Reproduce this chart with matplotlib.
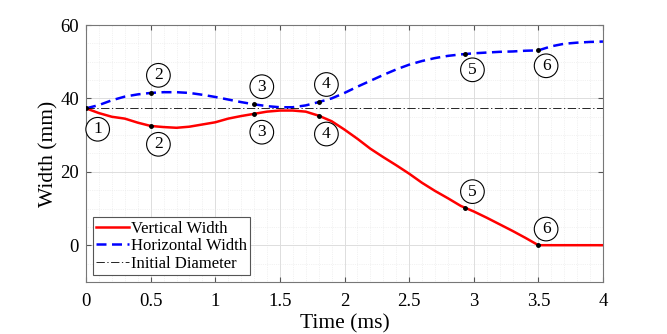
import matplotlib.pyplot as plt
import numpy as np

plt.rcParams['font.family'] = ['Liberation Serif', 'DejaVu Serif']
plt.rcParams['mathtext.fontset'] = 'stix'

# time axis (ms) and widths (mm)
t = [0.0, 0.1, 0.2, 0.3, 0.4, 0.5, 0.6, 0.7, 0.8, 0.9,
     1.0, 1.1, 1.2, 1.3, 1.4, 1.5, 1.6, 1.7, 1.8, 1.9,
     2.0, 2.1, 2.2, 2.3, 2.4, 2.5, 2.6, 2.7, 2.8, 2.9,
     3.0, 3.1, 3.2, 3.3, 3.4, 3.5, 3.6, 3.7, 3.8, 3.9, 4.0]
vertical = [37.3, 36.0, 35.0, 34.5, 33.4, 32.5, 32.2, 32.0, 32.3, 32.9,
            33.5, 34.5, 35.2, 35.8, 36.4, 36.7, 36.7, 36.4, 35.3, 33.8,
            31.5, 29.0, 26.3, 24.0, 21.8, 19.5, 17.0, 14.8, 12.8, 10.7,
            9.2, 7.5, 5.7, 3.9, 2.0, 0.0, 0.0, 0.0, 0.0, 0.0, 0.0]
horizontal = [37.3, 38.2, 39.5, 40.5, 41.1, 41.5, 41.7, 41.7, 41.5, 41.0,
              40.4, 39.7, 39.0, 38.4, 37.9, 37.6, 37.6, 38.1, 39.0, 40.0,
              41.5, 43.2, 44.8, 46.4, 47.9, 49.2, 50.2, 51.0, 51.6, 52.0,
              52.3, 52.5, 52.7, 52.8, 53.0, 53.1, 54.2, 54.9, 55.2, 55.4, 55.5]
initial_diameter = 37.5

# marked stages
stage_t = [0.0, 0.5, 1.3, 1.8, 2.93, 3.5]
stage_v = [37.3, 32.5, 35.8, 35.3, 10.2, 0.0]
stage_h = [37.3, 41.5, 38.4, 39.0, 52.0, 53.1]
labels = ['1', '2', '3', '4', '5', '6']

fig = plt.figure(figsize=(6.67, 3.34), dpi=100)
ax = fig.add_axes([0.129, 0.156, 0.775, 0.769])

ax.plot(t, vertical, color='red', lw=1.8, label='Vertical Width')
ax.plot(t, horizontal, color='blue', lw=1.8, dashes=(4, 2.2), label='Horizontal Width')
ax.axhline(initial_diameter, color='black', lw=0.6, dashes=(10, 3, 1.5, 3), label='Initial Diameter')

ax.plot(stage_t, stage_v, 'k.', ms=5, zorder=5)
ax.plot(stage_t[1:], stage_h[1:], 'k.', ms=5, zorder=5)

circ = dict(boxstyle='circle,pad=0.22', fc='white', ec='black', lw=0.8)
tk = dict(fontsize=12.5, ha='center', va='center', bbox=circ, zorder=6)
# label 1 below the common start point
ax.text(0.09, 31.6, labels[0], **tk)
# vertical width labels (below, then above once it falls)
for i in range(1, 6):
    dy = -5.0 if i < 4 else 4.4
    ax.text(stage_t[i] + 0.06, stage_v[i] + dy, labels[i], **tk)
# horizontal width labels (above, then below)
for i in range(1, 6):
    dy = 4.8 if i < 4 else -4.2
    ax.text(stage_t[i] + 0.06, stage_h[i] + dy, labels[i], **tk)

ax.set_xlim(0, 4)
ax.set_ylim(-10, 60)
ax.set_xticks([0, 0.5, 1, 1.5, 2, 2.5, 3, 3.5, 4])
ax.set_xticklabels(['0', '0.5', '1', '1.5', '2', '2.5', '3', '3.5', '4'])
ax.set_yticks([0, 20, 40, 60])
ax.set_xticks(np.arange(0, 4.01, 0.1), minor=True)
ax.set_yticks(np.arange(-10, 60.1, 5), minor=True)
ax.grid(which='major', color='#dddddd', lw=0.7)
ax.grid(which='minor', color='#e6e6e6', lw=0.5, ls=':')
ax.set_axisbelow(True)
ax.tick_params(which='both', direction='in', top=True, right=True, labelsize=13.5,
               color='#555555')
ax.tick_params(axis='x', pad=8)
ax.tick_params(axis='y', pad=5)
ax.tick_params(which='minor', length=0)
for s in ax.spines.values():
    s.set_color('#777777')

ax.set_xlabel('Time (ms)', fontsize=15.5, labelpad=3)
ax.set_ylabel('Width (mm)', fontsize=15.5, labelpad=1)

leg = ax.legend(loc='lower left', fontsize=12, handlelength=2.0, handletextpad=0.1,
                labelspacing=0.1, borderpad=0.2, borderaxespad=0.4, fancybox=False,
                framealpha=1, edgecolor='#555555')
leg.get_frame().set_linewidth(0.8)

fig.savefig('out.png', dpi=100)
